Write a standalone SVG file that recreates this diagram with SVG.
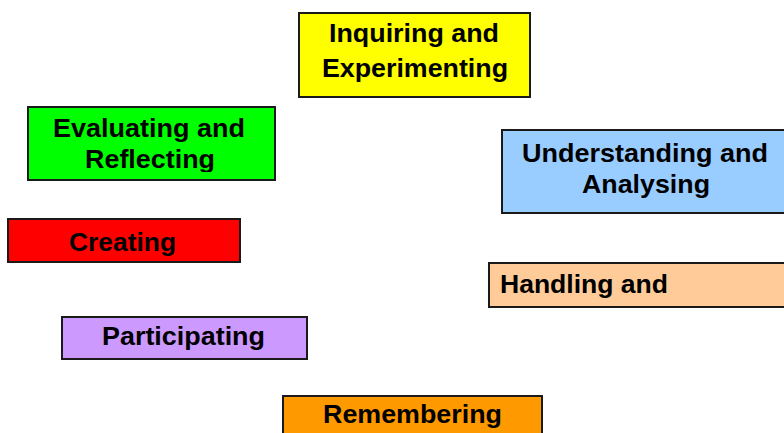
<svg xmlns="http://www.w3.org/2000/svg" width="784" height="433" viewBox="0 0 784 433">
<defs>
<style>
rect.box{stroke:#1a1a1a;stroke-width:2}
text{font-family:"Liberation Sans",Arial,sans-serif;font-weight:bold;font-size:25px;fill:#000}
text.c{text-anchor:middle}
</style>
<clipPath id="clipGreen"><rect x="28" y="107" width="247" height="65"/></clipPath>
</defs>
<rect width="784" height="433" fill="#ffffff"/>
<g id="connectors"></g>
<g id="inquiring">
<rect class="box" x="299" y="13" width="231" height="84" fill="#ffff00"/>
<text class="c" x="414" y="42" textLength="170" lengthAdjust="spacingAndGlyphs">Inquiring and</text>
<text class="c" x="415" y="77" textLength="186" lengthAdjust="spacingAndGlyphs">Experimenting</text>
</g>
<g id="evaluating">
<rect class="box" x="28" y="107" width="247" height="73" fill="#00ff00"/>
<g clip-path="url(#clipGreen)">
<text class="c" x="149" y="137" textLength="192" lengthAdjust="spacingAndGlyphs">Evaluating and</text>
<text class="c" x="150" y="168" textLength="130" lengthAdjust="spacingAndGlyphs">Reflecting</text>
</g>
</g>
<g id="understanding">
<rect class="box" x="502" y="130" width="290" height="83" fill="#99ccff"/>
<text class="c" x="645" y="162" textLength="246" lengthAdjust="spacingAndGlyphs">Understanding and</text>
<text class="c" x="646" y="193" textLength="128" lengthAdjust="spacingAndGlyphs">Analysing</text>
</g>
<g id="creating">
<rect class="box" x="8" y="219" width="232" height="43" fill="#ff0000"/>
<text class="c" x="122.5" y="251" textLength="107" lengthAdjust="spacingAndGlyphs">Creating</text>
</g>
<g id="handling">
<rect class="box" x="489" y="263" width="305" height="44" fill="#ffcc99"/>
<text x="500" y="293" textLength="168" lengthAdjust="spacingAndGlyphs">Handling and</text>
</g>
<g id="participating">
<rect class="box" x="62" y="317" width="245" height="42" fill="#cc99ff"/>
<text class="c" x="183.5" y="345" textLength="163" lengthAdjust="spacingAndGlyphs">Participating</text>
</g>
<g id="remembering">
<rect class="box" x="283" y="396" width="259" height="50" fill="#ff9900"/>
<text class="c" x="412.5" y="423" textLength="179" lengthAdjust="spacingAndGlyphs">Remembering</text>
</g>
</svg>
